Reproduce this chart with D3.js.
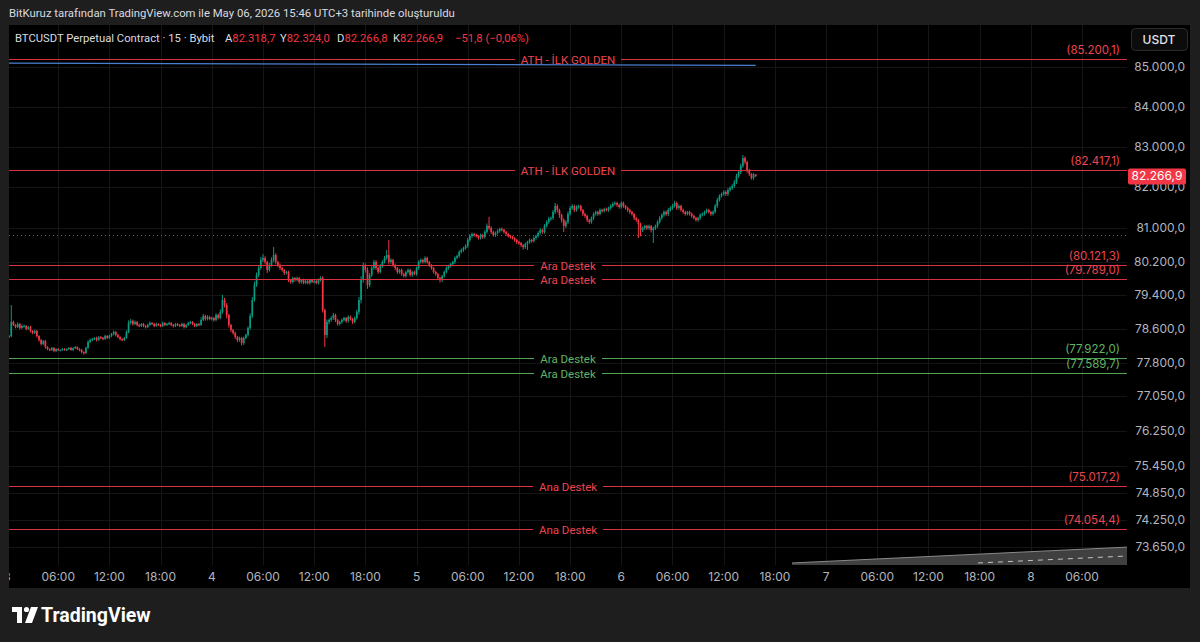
<!DOCTYPE html>
<html><head><meta charset="utf-8">
<script src="https://cdn.jsdelivr.net/npm/d3@7"></script>
<style>
html,body{margin:0;padding:0;background:#1e1e1e;overflow:hidden;}
svg{display:block;font-family:"Inter","Noto Sans",sans-serif;}
</style></head><body>
<svg id="c" width="1200" height="642"></svg>
<script>
// ---------------- DATA ----------------
const headerText = "BitKuruz tarafından TradingView.com ile May 06, 2026 15:46 UTC+3 tarihinde oluşturuldu";
const symbolText = "BTCUSDT Perpetual Contract · 15 · Bybit";
const legendKeys = ["A", "Y", "D", "K"];
const legendValues = ["82.318,7", "82.324,0", "82.266,8", "82.266,9"];
const legendChange = "−51,8 (−0,06%)";

// 15-minute candles starting day 3 00:00 (closes, USDT)
const firstOpen = 78380;
const closes = [
// day 3
78418,78440,78770,78700, 78652,78723,78629,78676, 78676,78606,78652,78559, 78512,78559,78442,78348,
78254,78325,78184,78137, 78114,78161,78091,78137, 78114,78114,78137,78114, 78137,78161,78114,78161,
78184,78137,78114,78067, 78044,78161,78301,78348, 78371,78395,78348,78418, 78395,78371,78442,78395,
78442,78488,78535,78465, 78418,78371,78348,78395, 78535,78747,78794,78723, 78770,78700,78676,78723,
78676,78652,78700,78747, 78723,78676,78723,78700, 78676,78747,78700,78723, 78747,78700,78676,78723,
78700,78676,78723,78652, 78700,78747,78770,78723, 78676,78723,78700,78817, 78911,78841,78888,78841,
// day 4
78864,78817,78935,78864, 79006,79289,79171,78935, 78700,78582,78512,78418, 78348,78395,78278,78395,
78465,78629,78911,79289, 79645,79883,80050,80242, 80290,80194,80002,80122, 80242,80362,80194,80122,
80050,80002,79931,79954, 79764,79716,79812,79764, 79812,79716,79764,79693, 79740,79693,79764,79716,
79740,79693,79764,79812, 79053,78465,78770,78817, 78864,78935,78817,78723, 78770,78817,78864,78794,
78888,78841,78770,78864, 79006,79289,79764,80122, 80002,79645,79883,80050, 80194,80050,79954,80098,
80194,80290,80362,80194, 80242,80122,80050,79954, 80002,79907,79859,79954, 80002,79883,79954,79907,
// day 5
80050,80194,80242,80194, 80290,80194,80122,80050, 79954,79907,79812,79764, 79859,79954,80050,80098,
80146,80194,80290,80338, 80433,80481,80529,80577, 80722,80818,80866,80842, 80818,80770,80842,80794,
80915,81060,81011,80915, 80842,80891,80939,80987, 80963,80915,80866,80818, 80794,80770,80722,80674,
80650,80601,80553,80625, 80674,80722,80698,80770, 80818,80891,80963,80915, 81060,81157,81230,81254,
81400,81546,81448,81327, 81206,81060,81157,81351, 81497,81546,81448,81521, 81546,81448,81351,81303,
81206,81157,81254,81351, 81400,81351,81448,81424, 81473,81448,81497,81546, 81595,81619,81570,81521,
// day 6
81619,81546,81497,81448, 81400,81351,81254,81206, 81109,80963,81011,81060, 81011,81060,80963,81011,
81060,81157,81254,81327, 81400,81351,81448,81497, 81546,81619,81497,81546, 81448,81400,81351,81400,
81351,81303,81254,81206, 81254,81327,81351,81400, 81448,81400,81351,81400, 81546,81692,81789,81838,
81886,81838,81935,81984, 82033,82131,82278,82377, 82525,82722,82624,82426, 82328,82229,82318.7,82266.9
];
const upperWicks = [
20,25,400,30, 25,40,20,30, 35,20,25,30, 20,30,25,15, 30,20,25,20, 15,25,20,15, 20,15,25,20, 15,20,25,15,
20,15,20,25, 15,30,40,35, 25,20,30,25, 20,25,30,20, 30,25,35,20, 25,20,15,25, 40,60,45,30, 35,25,30,20,
25,20,30,35, 20,25,30,20, 25,30,20,25, 30,20,25,20, 25,20,30,25, 20,30,25,20, 25,20,30,60, 50,30,40,25,
30,25,40,30, 60,120,50,40, 30,25,20,30, 25,30,20,35, 30,40,60,70, 80,60,50,70, 90,40,30,50, 60,190,40,30,
35,30,25,30, 30,25,35,20, 30,25,20,30, 25,30,20,25, 30,25,35,40, 40,30,60,35, 40,45,30,25, 30,35,30,25,
40,30,25,35, 50,70,90,60, 40,60,50,45, 50,40,30,45, 40,50,120,360, 40,30,35,25, 30,35,25,30, 35,30,25,30,
30,40,35,30, 40,30,25,20, 25,30,20,25, 30,35,40,30, 25,30,35,30, 40,35,30,40, 50,45,35,30, 30,25,35,30,
40,60,220,40, 30,35,40,30, 35,30,25,30, 25,30,20,25, 30,25,20,35, 30,35,30,40, 35,40,45,30, 45,40,50,35,
50,73,40,30, 30,40,45,60, 50,45,30,40, 35,30,25,30, 30,25,35,40, 35,30,40,30, 30,35,30,40, 45,40,30,35,
40,30,25,30, 30,25,20,25, 25,30,35,30, 30,35,25,30, 35,40,45,40, 40,35,45,40, 45,50,30,35, 30,35,30,25,
30,35,30,25, 30,40,35,30, 35,30,25,40, 45,50,40,35, 40,35,45,40, 45,50,55,50, 60,75,40,30, 30,25,35,5.3
];
const lowerWicks = [
20,25,30,25, 30,25,35,20, 25,30,20,35, 30,25,35,40, 35,30,40,30, 25,20,30,25, 20,25,15,20, 25,20,15,25,
20,25,30,35, 40,25,20,25, 30,25,35,20, 25,30,20,25, 20,25,30,35, 30,35,30,25, 20,30,35,40, 30,35,30,25,
30,35,25,20, 25,30,20,25, 30,25,30,20, 25,30,35,25, 30,25,20,35, 25,20,30,25, 30,25,30,20, 30,40,35,30,
35,40,30,35, 30,40,60,80, 60,50,40,45, 50,40,60,45, 30,35,40,50, 40,45,50,40, 50,60,70,40, 40,50,60,55,
45,40,50,35, 50,40,35,40, 35,45,40,30, 30,35,40,30, 35,30,40,35, 60,280,70,50, 40,45,50,40, 35,40,30,45,
40,35,45,30, 40,60,80,70, 60,90,50,45, 40,50,45,35, 40,35,45,60, 45,40,50,45, 40,45,35,40, 35,40,45,30,
40,45,35,40, 35,40,45,40, 40,45,50,60, 45,40,35,40, 35,40,45,35, 40,35,45,40, 40,45,50,40, 35,40,35,45,
40,35,45,50, 40,45,35,40, 35,40,45,40, 40,35,45,50, 45,50,60,45, 144,40,45,35, 40,35,40,45, 40,35,45,40,
45,50,60,70, 60,145,50,45, 40,45,50,40, 45,40,50,45, 50,45,40,45, 40,45,35,40, 40,35,45,40, 35,40,45,40,
40,45,40,50, 45,40,50,45, 340,150,50,45, 50,45,60,313, 50,45,40,45, 40,45,50,40, 45,40,50,45, 40,45,40,35,
40,45,35,40, 45,40,35,40, 40,35,45,40, 40,45,40,35, 40,45,50,40, 45,40,50,45, 50,45,60,70, 50,40,45,0.1
];

const priceTicks = [85000, 84000, 83000, 82000, 81000, 80200, 79400, 78600, 77800, 77050, 76250, 75450, 74850, 74250, 73650];
const timeTickHours = [0, 6, 12, 18, 24, 30, 36, 42, 48, 54, 60, 66, 72, 78, 84, 90, 96, 102, 108, 114, 120, 126];
const timeTickLabels = ["3", "06:00", "12:00", "18:00", "4", "06:00", "12:00", "18:00", "5", "06:00", "12:00", "18:00",
                        "6", "06:00", "12:00", "18:00", "7", "06:00", "12:00", "18:00", "8", "06:00"];

const levelPrices = [85200.1, 82417.1, 80121.3, 79789.0, 77922.0, 77589.7, 75017.2, 74054.4];
const levelNames  = ["ATH - İLK GOLDEN", "ATH - İLK GOLDEN", "Ara Destek", "Ara Destek", "Ara Destek", "Ara Destek", "Ana Destek", "Ana Destek"];
const levelKinds  = ["red", "red", "red", "red", "green", "green", "red", "red"];

const trendHours  = [0, 87.75];
const trendPrices = [85100, 85040];
const dottedPrice = 80850;
const lastPrice = 82266.9;
const zoneHours = [92, 131.3];
const zoneTopPrices = [73302, 73650];
const zoneDashHours = [113.8, 131.3];
const zoneDashPrices = [73302, 73455];

// ---------------- LAYOUT ----------------
const W = 1200, H = 642;
const panel = {x: 9, y: 25, r: 1190, b: 588};
const plot = {l: 9, t: 25, r: 1127, b: 565};
const colUp = "#089981", colDown = "#f23645";
const redLine = "#d8323f", redText = "#ec4552";
const greenLine = "#52a455", greenText = "#62b365";
const axisText = "#b2b5be";
const gridCol = "#151515";
const uiFont = "Roboto, 'Noto Sans', sans-serif";

const loc = d3.formatLocale({decimal: ",", thousands: ".", grouping: [3], currency: ["", ""]});
const fmt = loc.format(",.1f");

const svg = d3.select("#c");
svg.append("rect").attr("width", W).attr("height", H).attr("fill", "#1e1e1e");
svg.append("rect").attr("x", panel.x).attr("y", panel.y)
  .attr("width", panel.r - panel.x).attr("height", panel.b - panel.y).attr("fill", "#000");

svg.append("text").attr("x", 9).attr("y", 17).attr("fill", "#d9dbe0")
  .attr("font-family", uiFont).attr("font-size", 11.35).text(headerText);

const x = d3.scaleLinear().domain([0, 131.27]).range([7, 1127]);
const y = d3.scaleLog().domain([73258, 86072]).range([565, 25]);

svg.append("clipPath").attr("id", "clip").append("rect")
  .attr("x", plot.l).attr("y", plot.t).attr("width", plot.r - plot.l).attr("height", plot.b - plot.t);

// grid
const grid = svg.append("g").attr("shape-rendering", "crispEdges");
grid.selectAll("line.v").data(timeTickHours).join("line")
  .attr("x1", d => Math.round(x(d)) + 0.5).attr("x2", d => Math.round(x(d)) + 0.5).attr("y1", plot.t).attr("y2", plot.b)
  .attr("stroke", gridCol).attr("stroke-width", 1);
grid.selectAll("line.h").data(priceTicks).join("line")
  .attr("x1", plot.l).attr("x2", plot.r).attr("y1", d => Math.round(y(d)) + 0.5).attr("y2", d => Math.round(y(d)) + 0.5)
  .attr("stroke", gridCol).attr("stroke-width", 1);

const g = svg.append("g").attr("clip-path", "url(#clip)");

// dotted line
g.append("line").attr("x1", plot.l).attr("x2", plot.r)
  .attr("y1", Math.round(y(dottedPrice)) + 0.5).attr("y2", Math.round(y(dottedPrice)) + 0.5)
  .attr("stroke", "#5e5e5e").attr("stroke-dasharray", "1,3");

// bottom-right zone
g.append("path").attr("d", d3.line()([
  [x(zoneHours[0]), y(zoneTopPrices[0])], [x(zoneHours[1]), y(zoneTopPrices[1])],
  [x(zoneHours[1]), plot.b], [x(zoneHours[0]), plot.b]]) + "Z")
  .attr("fill", "#404040");
g.append("line").attr("x1", x(zoneHours[0])).attr("y1", y(zoneTopPrices[0]))
  .attr("x2", x(zoneHours[1])).attr("y2", y(zoneTopPrices[1])).attr("stroke", "#8a8a8a").attr("stroke-width", 1);
g.append("line").attr("x1", x(zoneDashHours[0])).attr("y1", y(zoneDashPrices[0]))
  .attr("x2", x(zoneDashHours[1])).attr("y2", y(zoneDashPrices[1]))
  .attr("stroke", "#c4c4c4").attr("stroke-width", 1).attr("stroke-dasharray", "5,5");

// candles
const candles = closes.map((c, i) => {
  const o = i === 0 ? firstOpen : closes[i - 1];
  return {i, o, c, h: Math.max(o, c) + upperWicks[i], l: Math.min(o, c) - lowerWicks[i]};
});
const cg = g.append("g");
cg.selectAll("line").data(candles).join("line")
  .attr("x1", d => x(d.i / 4)).attr("x2", d => x(d.i / 4))
  .attr("y1", d => y(d.h)).attr("y2", d => y(d.l))
  .attr("stroke", d => d.c >= d.o ? colUp : colDown).attr("stroke-width", 1);
cg.selectAll("rect").data(candles).join("rect")
  .attr("x", d => x(d.i / 4) - 0.85).attr("width", 1.7)
  .attr("y", d => y(Math.max(d.o, d.c)))
  .attr("height", d => Math.max(1.2, y(Math.min(d.o, d.c)) - y(Math.max(d.o, d.c))))
  .attr("fill", d => d.c >= d.o ? colUp : colDown);

// trend line (blue)
g.append("line").attr("x1", x(trendHours[0])).attr("y1", y(trendPrices[0]))
  .attr("x2", x(trendHours[1])).attr("y2", y(trendPrices[1]))
  .attr("stroke", "#4a7fd0").attr("stroke-width", 1.3);

// level lines
const lv = svg.append("g");
levelPrices.forEach((p, k) => {
  const yy = Math.round(y(p)) + 0.5;
  const lc = levelKinds[k] === "red" ? redLine : greenLine;
  const tc = levelKinds[k] === "red" ? redText : greenText;
  const cx = (plot.l + plot.r) / 2;
  const t = lv.append("text").attr("x", cx).attr("y", yy + 4).attr("text-anchor", "middle")
    .attr("font-family", uiFont).attr("fill", tc).attr("font-size", 11.5).text(levelNames[k]);
  const w = t.node().getComputedTextLength();
  lv.append("line").attr("x1", plot.l).attr("x2", cx - w / 2 - 6).attr("y1", yy).attr("y2", yy)
    .attr("stroke", lc).attr("stroke-width", 1).attr("shape-rendering", "crispEdges");
  lv.append("line").attr("x1", cx + w / 2 + 6).attr("x2", plot.r).attr("y1", yy).attr("y2", yy)
    .attr("stroke", lc).attr("stroke-width", 1).attr("shape-rendering", "crispEdges");
  lv.append("text").attr("x", 1120).attr("y", yy - 6).attr("text-anchor", "end")
    .attr("fill", tc).attr("font-size", 11.5).text("(" + fmt(p) + ")");
});

// price axis
const pa = svg.append("g");
pa.selectAll("text").data(priceTicks).join("text")
  .attr("x", 1185).attr("y", d => y(d) + 4).attr("text-anchor", "end")
  .attr("fill", axisText).attr("font-size", 12).text(d => fmt(d));

// USDT button
svg.append("rect").attr("x", 1131.5).attr("y", 28.5).attr("width", 56).attr("height", 22).attr("rx", 4)
  .attr("fill", "#0c0c0c").attr("stroke", "#2c2c2c");
svg.append("text").attr("x", 1159).attr("y", 43.5).attr("text-anchor", "middle")
  .attr("fill", "#e0e3eb").attr("font-size", 12).attr("font-weight", 500).text("USDT");

// last price tag
const ly = y(lastPrice);
svg.append("rect").attr("x", 1128).attr("y", ly - 8).attr("width", 58).attr("height", 16).attr("rx", 2)
  .attr("fill", "#f23645");
svg.append("text").attr("x", 1157).attr("y", ly + 4).attr("text-anchor", "middle")
  .attr("fill", "#fff").attr("font-size", 12).text(fmt(lastPrice));

// time axis
const ta = svg.append("g");
ta.selectAll("text").data(timeTickHours).join("text")
  .attr("x", d => x(d)).attr("y", 581).attr("text-anchor", "middle")
  .attr("fill", axisText).attr("font-size", 12)
  .text((d, i) => timeTickLabels[i]);
// left margin over clipped "3"
svg.append("rect").attr("x", 0).attr("y", 25).attr("width", 9).attr("height", 563).attr("fill", "#1e1e1e");

// legend (symbol + OHLC)
const leg = svg.append("g").attr("font-family", uiFont).attr("font-size", 11.25);
leg.append("text").attr("x", 15).attr("y", 42).attr("fill", "#d9dbe0").text(symbolText);
const legX = [225, 280, 337, 393];
legendKeys.forEach((k, i) => {
  const t = leg.append("text").attr("x", legX[i]).attr("y", 42);
  t.append("tspan").attr("fill", "#d9dbe0").text(k);
  t.append("tspan").attr("fill", colDown).text(legendValues[i]);
});
leg.append("text").attr("x", 455).attr("y", 42).attr("fill", colDown).text(legendChange);

// footer logo
const lg = svg.append("g").attr("fill", "#ffffff");
lg.append("path").attr("d", "M12 607 H22 V623 H17 V612 H12 Z");
lg.append("circle").attr("cx", 26.5).attr("cy", 609.5).attr("r", 2.6);
lg.append("path").attr("d", "M31 607 H38 L32 623 H25 Z");
svg.append("text").attr("x", 41).attr("y", 622).attr("fill", "#ffffff")
  .attr("font-family", uiFont).attr("font-size", 19.5).attr("font-weight", 700).attr("letter-spacing", 0).text("TradingView");
</script>
</body></html>
